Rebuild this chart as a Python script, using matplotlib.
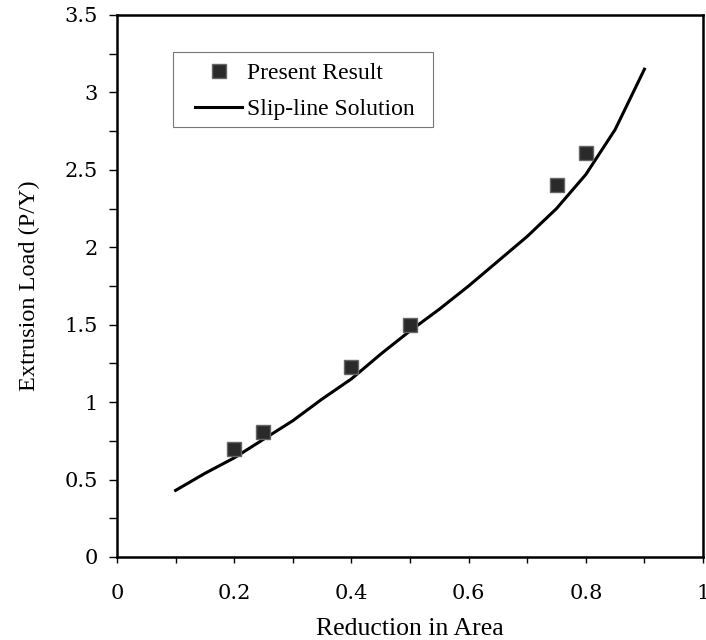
import numpy as np
import matplotlib.pyplot as plt
from matplotlib.patches import Rectangle
from matplotlib.ticker import MultipleLocator, FixedFormatter, FixedLocator

# measured points
reduction = [0.2, 0.25, 0.4, 0.5, 0.75, 0.8]
load = [0.70, 0.81, 1.23, 1.50, 2.40, 2.61]

# slip-line solution
slip_r = [0.1, 0.15, 0.2, 0.25, 0.3, 0.35, 0.4, 0.45, 0.5, 0.55, 0.6, 0.65, 0.7, 0.75, 0.8, 0.85, 0.9]
slip_p = [0.43, 0.54, 0.64, 0.76, 0.88, 1.02, 1.15, 1.31, 1.46, 1.60, 1.75, 1.91, 2.07, 2.25, 2.47, 2.76, 3.15]

x_ticks = [0, 0.2, 0.4, 0.6, 0.8, 1.0]
x_labels = ['0', '0.2', '0.4', '0.6', '0.8', '1']
y_ticks = [0, 0.5, 1, 1.5, 2, 2.5, 3, 3.5]
y_labels = ['0', '0.5', '1', '1.5', '2', '2.5', '3', '3.5']

plt.rcParams['font.family'] = ['Liberation Serif', 'DejaVu Serif']

fig = plt.figure(figsize=(7.06, 6.4), dpi=100)
ax = fig.add_axes([0.1657, 0.1297, 0.8301, 0.8469])

ax.plot(slip_r, slip_p, color='black', lw=2.2, label='Slip-line Solution', zorder=2)
ax.plot(reduction, load, ls='none', marker='s', ms=9.5, mfc='#2a2a2a', mec='#666666',
        mew=1.0, label='Present Result', zorder=3)

ax.set_xlim(0, 1)
ax.set_ylim(0, 3.5)
ax.xaxis.set_major_locator(FixedLocator(x_ticks))
ax.xaxis.set_major_formatter(FixedFormatter(x_labels))
ax.xaxis.set_minor_locator(MultipleLocator(0.1))
ax.yaxis.set_major_locator(FixedLocator(y_ticks))
ax.yaxis.set_major_formatter(FixedFormatter(y_labels))
ax.yaxis.set_minor_locator(MultipleLocator(0.25))

ax.tick_params(which='both', direction='out', width=1, colors='black', labelsize=15)
ax.tick_params(axis='x', which='both', length=4.5, pad=15)
ax.tick_params(axis='y', which='both', length=5.5, pad=8)
for lab in ax.get_xticklabels() + ax.get_yticklabels():
    lab.set_family('DejaVu Serif')
for s in ax.spines.values():
    s.set_linewidth(1.8)

ax.set_xlabel('Reduction in Area', fontsize=18.5, labelpad=11)
ax.set_ylabel('Extrusion Load (P/Y)', fontsize=17.5, labelpad=18)

# legend box drawn separately (wider left margin than matplotlib's padding)
ax.add_patch(Rectangle((0.0956, 0.7934), 0.4434, 0.1383, transform=ax.transAxes,
                       fill=True, facecolor='white', edgecolor='#777777', lw=0.8, zorder=4))
h, l = ax.get_legend_handles_labels()
leg = ax.legend(h[::-1], l[::-1], loc='upper left', bbox_to_anchor=(0.133, 0.912),
                fontsize=17, frameon=False, handlelength=2.0,
                handletextpad=0.2, borderpad=0, labelspacing=0.62, borderaxespad=0)
leg.set_zorder(5)

fig.savefig('out.png', dpi=100)
